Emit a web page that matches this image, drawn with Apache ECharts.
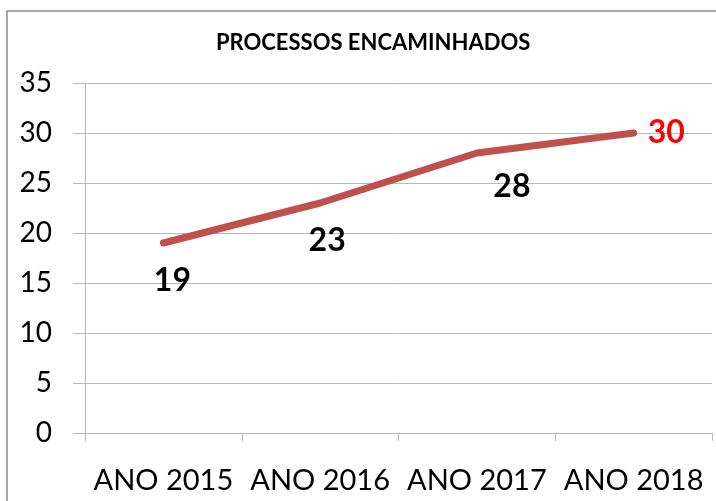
<!DOCTYPE html>
<html>
<head>
<meta charset="utf-8">
<script src="https://cdn.jsdelivr.net/npm/echarts@6/dist/echarts.min.js"></script>
<style>
  html, body { margin: 0; padding: 0; background: #fff; }
  #chart { width: 716px; height: 501px; }
</style>
</head>
<body>
<div id="chart"></div>
<script>
// dados
const titleText = 'PROCESSOS ENCAMINHADOS'
const years = ['ANO 2015', 'ANO 2016', 'ANO 2017', 'ANO 2018']
const processos = [19, 23, 28, 30]

const lineColor = '#c0504d'
const gridColor = '#b9b9b9'
const font = 'Lato, "Open Sans", sans-serif'

// posição de cada rótulo (igual ao original)
const labelOffsets = [[9, 2], [7, 2], [35, -2], [0, 0]]

const chart = echarts.init(document.getElementById('chart'))

chart.setOption({
  backgroundColor: '#fff',
  animation: false,
  title: {
    text: titleText,
    left: 211,
    top: 27,
    textStyle: { fontFamily: font, fontSize: 22, fontWeight: 'bold', color: '#000' },
  },
  graphic: [
    {
      type: 'rect',
      shape: { x: 7, y: 11, width: 800, height: 600 },
      style: { fill: 'none', stroke: '#8a8a8a', lineWidth: 1.5 },
    },
  ],
  grid: { left: 85, right: 4, top: 83, bottom: 68 },
  xAxis: {
    type: 'category',
    data: years,
    boundaryGap: true,
    axisLine: { lineStyle: { color: gridColor, width: 1 } },
    axisTick: { show: true, length: 8, lineStyle: { color: gridColor } },
    axisLabel: { fontFamily: font, fontSize: 29, color: '#000', margin: 33, interval: 0, hideOverlap: false },
  },
  yAxis: {
    type: 'value',
    min: 0,
    max: 35,
    interval: 5,
    axisLine: { show: true, lineStyle: { color: gridColor, width: 1 } },
    axisTick: { show: true, length: 12, lineStyle: { color: gridColor } },
    axisLabel: { fontFamily: font, fontSize: 28, color: '#000', margin: 33 },
    splitLine: { lineStyle: { color: gridColor, width: 1 } },
  },
  series: [
    {
      type: 'line',
      data: processos.map((v, i) => ({
        value: v,
        label: i === processos.length - 1
          ? { position: 'right', distance: 14, color: '#ff0000' }
          : { position: 'bottom', distance: 20, offset: labelOffsets[i], color: '#000' },
      })),
      showSymbol: true,
      symbol: 'circle',
      symbolSize: 0.1,
      itemStyle: { color: lineColor },
      lineStyle: { color: lineColor, width: 7, cap: 'round', join: 'round' },
      label: {
        show: true,
        fontFamily: font,
        fontSize: 32,
        fontWeight: 'bold',
      },
    },
  ],
})
</script>
</body>
</html>
